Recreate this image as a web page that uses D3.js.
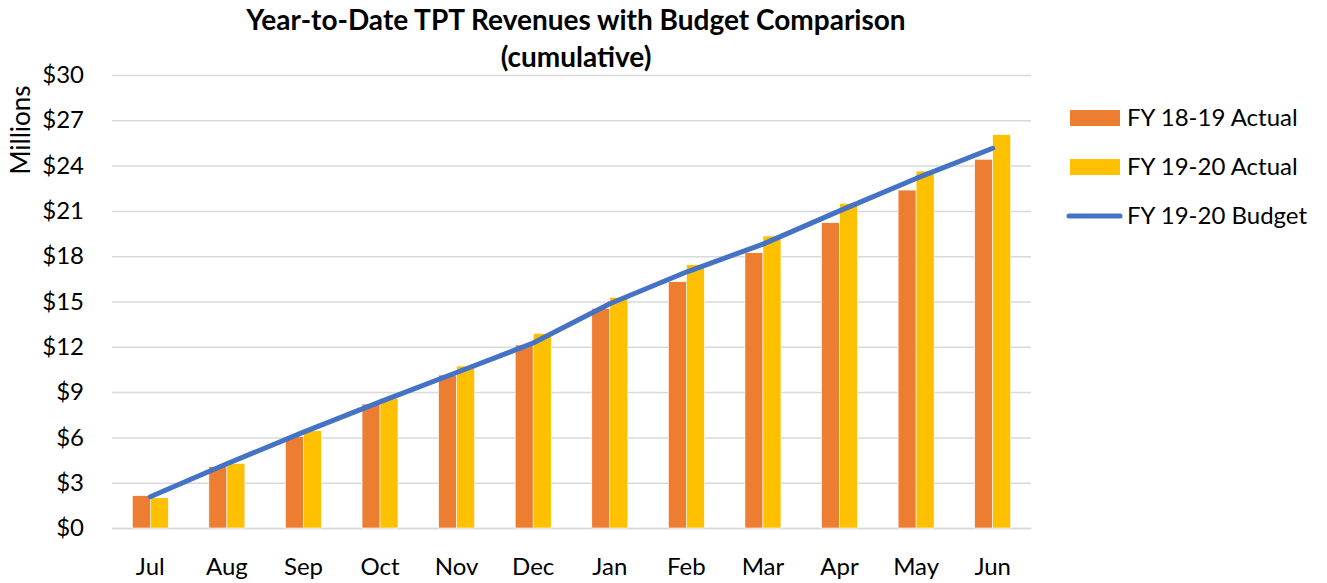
<!DOCTYPE html>
<html>
<head>
<meta charset="utf-8">
<script src="https://cdn.jsdelivr.net/npm/d3@7"></script>
<style>
  body { margin: 0; background: #fff; }
  svg text { font-family: Lato, "Open Sans", sans-serif; fill: #000; }
</style>
</head>
<body>
<div id="chart"></div>
<script>
const months = ["Jul", "Aug", "Sep", "Oct", "Nov", "Dec", "Jan", "Feb", "Mar", "Apr", "May", "Jun"];
const actual1819 = [2.14, 4.06, 6.05, 8.21, 10.13, 12.12, 14.55, 16.31, 18.23, 20.22, 22.38, 24.42];
const actual1920 = [2.0, 4.28, 6.44, 8.59, 10.73, 12.89, 15.28, 17.44, 19.34, 21.5, 23.64, 26.05];
const budget1920 = [2.07, 4.25, 6.35, 8.35, 10.3, 12.25, 14.85, 16.95, 18.8, 21.0, 23.15, 25.15];
const yTicks = [0, 3, 6, 9, 12, 15, 18, 21, 24, 27, 30];
const seriesNames = ["FY 18-19 Actual", "FY 19-20 Actual", "FY 19-20 Budget"];
const colors = ["#ED7D31", "#FFC000", "#4472C4"];

const width = 1327, height = 583;
const plot = { left: 112, right: 1031, top: 75, bottom: 528 };

const svg = d3.select("#chart").append("svg")
    .attr("width", width)
    .attr("height", height);

const x = d3.scaleBand()
    .domain(months)
    .range([plot.left, plot.right])
    .paddingInner(0.53)
    .paddingOuter(0.265);

const x1 = d3.scaleBand()
    .domain([0, 1])
    .range([0, x.bandwidth()]);

const y = d3.scaleLinear()
    .domain([0, 30])
    .range([plot.bottom, plot.top]);

// gridlines + y labels
const yAxis = svg.append("g")
    .attr("transform", `translate(${plot.left},0)`)
    .call(d3.axisLeft(y).tickValues(yTicks).tickSize(-(plot.right - plot.left)).tickPadding(28).tickFormat(d => `$${d}`));
yAxis.select(".domain").remove();
yAxis.selectAll("line").attr("stroke", "#d9d9d9").attr("stroke-width", 1.5);
yAxis.selectAll("text").attr("font-size", 24).attr("font-family", "Lato, sans-serif");

// x labels
const xAxis = svg.append("g")
    .attr("transform", `translate(0,${plot.bottom})`)
    .call(d3.axisBottom(x).tickSize(0).tickPadding(30));
xAxis.select(".domain").attr("stroke", "#d9d9d9").attr("stroke-width", 1.5);
xAxis.selectAll("text").attr("font-size", 24).attr("font-family", "Lato, sans-serif");

// bars
[actual1819, actual1920].forEach((vals, s) => {
  svg.append("g")
    .selectAll("rect")
    .data(vals)
    .join("rect")
    .attr("x", (d, i) => x(months[i]) + x1(s))
    .attr("y", d => y(d))
    .attr("width", x1.bandwidth())
    .attr("height", d => y(0) - y(d))
    .attr("fill", colors[s])
    .attr("stroke", "#fff")
    .attr("stroke-width", 0.6);
});

// budget line
const line = d3.line()
    .x((d, i) => x(months[i]) + x.bandwidth() / 2)
    .y(d => y(d));

svg.append("path")
    .datum(budget1920)
    .attr("d", line)
    .attr("fill", "none")
    .attr("stroke", colors[2])
    .attr("stroke-width", 5)
    .attr("stroke-linecap", "round")
    .attr("stroke-linejoin", "round");

// y axis title
svg.append("text")
    .attr("transform", "translate(30,130) rotate(-90)")
    .attr("text-anchor", "middle")
    .attr("font-size", 26)
    .text("Millions");

// title
const title = svg.append("text")
    .attr("x", 576)
    .attr("text-anchor", "middle")
    .attr("font-size", 28)
    .attr("font-weight", "bold");
title.append("tspan").attr("x", 576).attr("y", 30).text("Year-to-Date TPT Revenues with Budget Comparison");
title.append("tspan").attr("x", 576).attr("y", 67).text("(cumulative)");

// legend
const legend = svg.append("g");
seriesNames.forEach((name, i) => {
  const ly = 118 + i * 49;
  if (i < 2) {
    legend.append("rect")
      .attr("x", 1070).attr("y", ly - 8)
      .attr("width", 50).attr("height", 16)
      .attr("fill", colors[i]);
  } else {
    legend.append("line")
      .attr("x1", 1069).attr("x2", 1120)
      .attr("y1", ly).attr("y2", ly)
      .attr("stroke", colors[i])
      .attr("stroke-width", 5)
      .attr("stroke-linecap", "round");
  }
  legend.append("text")
    .attr("x", 1127).attr("y", ly)
    .attr("dy", "0.35em")
    .attr("font-size", 24)
    .text(name);
});
</script>
</body>
</html>
